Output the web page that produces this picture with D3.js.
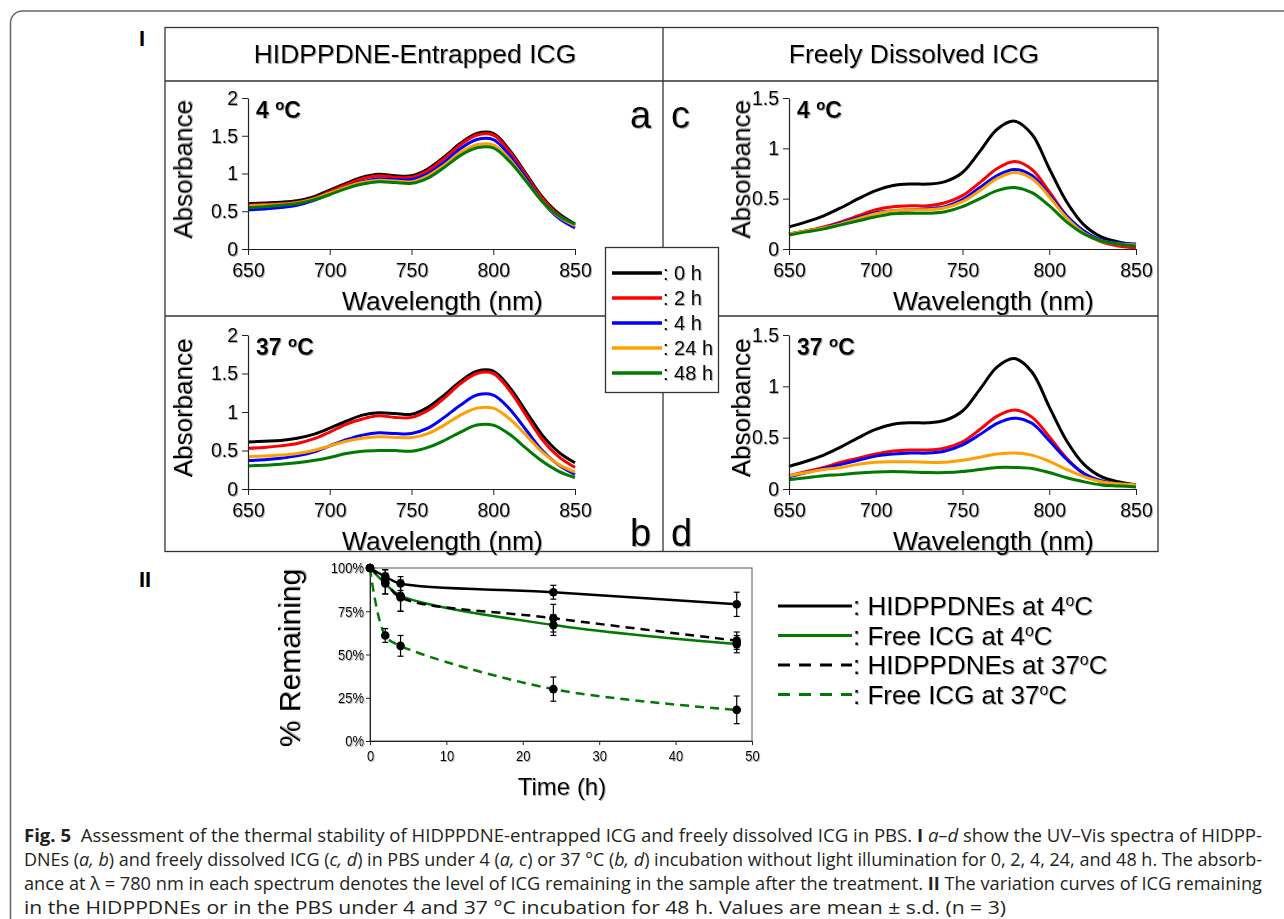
<!DOCTYPE html>
<meta charset="utf-8">
<script src="https://cdn.jsdelivr.net/npm/d3@7"></script>
<style>
body { margin: 0; background: #fff; }
svg text { font-family: "Liberation Sans", Arial, sans-serif; fill: #000; }
svg .caption text { font-family: "Open Sans", sans-serif; fill: #231f20; font-size: 17.5px; }
</style>
<body>
<script>

// ---- data ----
var wavelengths = [650, 660, 670, 680, 690, 700, 710, 720, 730, 740, 750, 760, 770, 780, 790, 800, 810, 820, 830, 840, 850];
var hourLabels = ["0 h", "2 h", "4 h", "24 h", "48 h"];

// a: HIDPPDNE-entrapped ICG, 4 oC
var a_0h  = [0.60,0.61,0.62,0.64,0.69,0.78,0.87,0.95,0.99,0.97,0.97,1.06,1.22,1.40,1.53,1.53,1.31,1.00,0.69,0.47,0.33];
var a_2h  = [0.58,0.59,0.60,0.62,0.67,0.76,0.85,0.93,0.97,0.95,0.95,1.04,1.20,1.38,1.51,1.51,1.29,0.98,0.67,0.45,0.31];
var a_4h  = [0.52,0.53,0.55,0.58,0.64,0.73,0.82,0.89,0.93,0.92,0.92,1.00,1.15,1.33,1.45,1.45,1.24,0.94,0.63,0.41,0.28];
var a_24h = [0.57,0.58,0.59,0.61,0.66,0.74,0.82,0.88,0.91,0.90,0.89,0.97,1.11,1.28,1.38,1.38,1.19,0.91,0.63,0.43,0.31];
var a_48h = [0.55,0.56,0.58,0.60,0.65,0.72,0.80,0.86,0.89,0.88,0.87,0.94,1.08,1.24,1.34,1.34,1.16,0.90,0.63,0.44,0.33];

// b: HIDPPDNE-entrapped ICG, 37 oC
var b_0h  = [0.61,0.62,0.63,0.66,0.71,0.79,0.88,0.96,0.99,0.98,0.97,1.06,1.22,1.40,1.53,1.53,1.32,1.01,0.70,0.48,0.34];
var b_2h  = [0.53,0.54,0.56,0.59,0.65,0.74,0.84,0.91,0.95,0.93,0.93,1.02,1.18,1.37,1.50,1.50,1.28,0.96,0.64,0.42,0.28];
var b_4h  = [0.37,0.38,0.40,0.43,0.48,0.56,0.64,0.70,0.73,0.72,0.72,0.79,0.93,1.09,1.22,1.22,1.04,0.77,0.50,0.31,0.19];
var b_24h = [0.42,0.43,0.44,0.46,0.50,0.56,0.62,0.66,0.68,0.67,0.67,0.72,0.83,0.96,1.05,1.05,0.91,0.70,0.48,0.32,0.22];
var b_48h = [0.30,0.31,0.32,0.34,0.37,0.41,0.46,0.49,0.50,0.50,0.49,0.54,0.63,0.74,0.83,0.83,0.71,0.53,0.36,0.23,0.15];

// c: freely dissolved ICG, 4 oC
var c_0h  = [0.22,0.27,0.33,0.41,0.50,0.58,0.63,0.645,0.645,0.67,0.76,0.97,1.19,1.27,1.14,0.80,0.47,0.24,0.12,0.07,0.04];
var c_2h  = [0.15,0.18,0.22,0.27,0.33,0.39,0.42,0.43,0.43,0.46,0.53,0.66,0.80,0.87,0.79,0.57,0.33,0.16,0.07,0.03,0.01];
var c_4h  = [0.15,0.18,0.21,0.26,0.31,0.36,0.38,0.39,0.40,0.42,0.49,0.61,0.73,0.79,0.73,0.54,0.33,0.18,0.09,0.06,0.05];
var c_24h = [0.15,0.18,0.21,0.25,0.30,0.35,0.38,0.39,0.39,0.41,0.47,0.58,0.70,0.76,0.70,0.52,0.31,0.16,0.08,0.05,0.04];
var c_48h = [0.14,0.17,0.20,0.24,0.28,0.32,0.35,0.355,0.355,0.37,0.42,0.50,0.58,0.61,0.56,0.43,0.27,0.15,0.08,0.05,0.03];

// d: freely dissolved ICG, 37 oC
var d_0h  = [0.22,0.27,0.33,0.41,0.50,0.58,0.63,0.645,0.645,0.67,0.76,0.97,1.19,1.27,1.14,0.80,0.47,0.24,0.12,0.07,0.04];
var d_2h  = [0.13,0.17,0.21,0.26,0.30,0.34,0.37,0.38,0.38,0.40,0.46,0.58,0.71,0.77,0.70,0.51,0.30,0.15,0.07,0.04,0.03];
var d_4h  = [0.12,0.16,0.20,0.24,0.28,0.32,0.34,0.35,0.35,0.37,0.43,0.53,0.64,0.69,0.64,0.47,0.29,0.15,0.08,0.05,0.04];
var d_24h = [0.13,0.16,0.19,0.21,0.24,0.26,0.265,0.265,0.26,0.26,0.28,0.31,0.34,0.35,0.33,0.27,0.19,0.12,0.07,0.05,0.04];
var d_48h = [0.09,0.11,0.13,0.14,0.155,0.165,0.17,0.165,0.16,0.16,0.17,0.19,0.21,0.21,0.20,0.16,0.11,0.07,0.04,0.03,0.02];

// II: % remaining vs time
var timeH = [0, 2, 4, 24, 48];
var hid4  = [100, 95, 91, 86, 79];   var hid4Err  = [0, 4, 4, 4, 7];
var free4 = [100, 91, 84, 67, 56];   var free4Err = [0, 6, 9, 6, 5];
var hid37 = [100, 92, 83, 71, 58];   var hid37Err = [0, 7, 8, 8, 5];
var free37 = [100, 61, 55, 30, 18];  var free37Err = [0, 4, 6, 7, 8];
var remainingNames = ["HIDPPDNEs at 4", "Free ICG at 4", "HIDPPDNEs at 37", "Free ICG at 37"];

var hourColors = ["#000000", "#ff0000", "#0000ff", "#ffa000", "#007a00"];
var fontF = "Liberation Sans, Arial, sans-serif";

var svg = d3.select("body").append("svg")
    .attr("width", 1284)
    .attr("height", 919);

var defs = svg.append("defs");
var flt = defs.append("filter").attr("id", "sh").attr("x", "-5%").attr("y", "-5%").attr("width", "110%").attr("height", "120%");
flt.append("feDropShadow").attr("dx", 1).attr("dy", 1).attr("stdDeviation", 0.6)
    .attr("flood-color", "#777").attr("flood-opacity", 0.6);

// outer page frame (top + left, rounded corner)
svg.append("path")
    .attr("d", "M10.5,919 L10.5,23 A12,12 0 0 1 22.5,11 L1284,11")
    .attr("fill", "none").attr("stroke", "#666").attr("stroke-width", 1.5);

// ---- panel I grid ----
var grid = svg.append("g").attr("stroke", "#333").attr("stroke-width", 1.3).attr("fill", "none");
grid.append("rect").attr("x", 165).attr("y", 27.5).attr("width", 993).attr("height", 524);
grid.append("line").attr("x1", 165).attr("x2", 1158).attr("y1", 81).attr("y2", 81);
grid.append("line").attr("x1", 165).attr("x2", 1158).attr("y1", 316).attr("y2", 316);
grid.append("line").attr("x1", 663).attr("x2", 663).attr("y1", 27.5).attr("y2", 551.5);

svg.append("text").attr("x", 139).attr("y", 46).attr("font-size", 22).attr("font-weight", "bold").text("I");
svg.append("text").attr("x", 139).attr("y", 587).attr("font-size", 22).attr("font-weight", "bold").text("II");

svg.append("text").attr("x", 415).attr("y", 63).attr("text-anchor", "middle").attr("font-size", 26.5)
    .attr("filter", "url(#sh)").text("HIDPPDNE-Entrapped ICG");
svg.append("text").attr("x", 914).attr("y", 63).attr("text-anchor", "middle").attr("font-size", 26.5)
    .attr("filter", "url(#sh)").text("Freely Dissolved ICG");

var panels = [
  {series: [a_0h, a_2h, a_4h, a_24h, a_48h], left: 248, right: 575, top: 98, bottom: 249, ymax: 2,
   temp: "4", letter: "a", lx: 630, ly: 128, ylabX: 192},
  {series: [b_0h, b_2h, b_4h, b_24h, b_48h], left: 248, right: 575, top: 335, bottom: 489, ymax: 2,
   temp: "37", letter: "b", lx: 630, ly: 546, ylabX: 192},
  {series: [c_0h, c_2h, c_4h, c_24h, c_48h], left: 789, right: 1136, top: 98, bottom: 249, ymax: 1.5,
   temp: "4", letter: "c", lx: 671, ly: 128, ylabX: 750},
  {series: [d_0h, d_2h, d_4h, d_24h, d_48h], left: 789, right: 1136, top: 335, bottom: 489, ymax: 1.5,
   temp: "37", letter: "d", lx: 671, ly: 546, ylabX: 750}
];

panels.forEach(function(p) {
  var g = svg.append("g");
  var x = d3.scaleLinear().domain([650, 850]).range([p.left, p.right]);
  var y = d3.scaleLinear().domain([0, p.ymax]).range([p.bottom, p.top]);

  var line = d3.line()
      .x(function(d, i) { return x(wavelengths[i]); })
      .y(function(d) { return y(d); })
      .curve(d3.curveCatmullRom.alpha(0.5));

  g.selectAll("path.spec")
      .data(p.series)
      .enter().append("path")
      .attr("class", "spec")
      .attr("d", line)
      .attr("fill", "none")
      .attr("stroke", function(d, i) { return hourColors[i]; })
      .attr("stroke-width", 3);

  var ax = g.append("g")
      .attr("transform", "translate(0," + p.bottom + ")")
      .call(d3.axisBottom(x).tickValues([650, 700, 750, 800, 850]).tickSize(6).tickSizeOuter(0).tickPadding(8));
  var ay = g.append("g")
      .attr("transform", "translate(" + p.left + ",0)")
      .call(d3.axisLeft(y).tickValues(p.ymax == 2 ? [0, 0.5, 1, 1.5, 2] : [0, 0.5, 1, 1.5])
          .tickFormat(function(d) { return String(d); }).tickSize(6).tickSizeOuter(0).tickPadding(4));
  [ax, ay].forEach(function(a) {
    a.attr("font-size", 19.5).attr("font-family", fontF).attr("color", "#222");
    a.selectAll("text").attr("filter", "url(#sh)");
    a.select(".domain").attr("stroke-width", 1.2);
  });

  g.append("text")
      .attr("x", (p.left + p.right) / 2 + 31)
      .attr("y", p.bottom + 61)
      .attr("text-anchor", "middle").attr("font-size", 26.5).attr("filter", "url(#sh)")
      .text("Wavelength (nm)");

  g.append("text")
      .attr("transform", "translate(" + p.ylabX + "," + ((p.top + p.bottom) / 2 - 4) + ") rotate(-90)")
      .attr("text-anchor", "middle").attr("font-size", 26).attr("filter", "url(#sh)")
      .text("Absorbance");

  var t = g.append("text")
      .attr("x", p.left + 8).attr("y", p.top + 20)
      .attr("font-size", 23).attr("font-weight", "bold").attr("filter", "url(#sh)");
  t.append("tspan").text(p.temp + " ");
  t.append("tspan").attr("font-size", 15).attr("dy", -8).text("o");
  t.append("tspan").attr("dy", 8).text("C");

  g.append("text").attr("x", p.lx).attr("y", p.ly).attr("font-size", 38)
      .attr("filter", "url(#sh)").text(p.letter);
});

// legend box for the spectra
var lg = svg.append("g");
lg.append("rect").attr("x", 605.5).attr("y", 247.5).attr("width", 113).attr("height", 145)
    .attr("fill", "#fff").attr("stroke", "#333").attr("stroke-width", 1.3);
hourLabels.forEach(function(h, i) {
  var yy = 273 + i * 25;
  lg.append("line").attr("x1", 612).attr("x2", 662).attr("y1", yy).attr("y2", yy)
      .attr("stroke", hourColors[i]).attr("stroke-width", 3.5);
  lg.append("text").attr("x", 663).attr("y", yy + 7).attr("font-size", 20)
      .attr("filter", "url(#sh)").text(": " + h);
});

// ---- panel II ----
var px = d3.scaleLinear().domain([0, 50]).range([370, 752]);
var py = d3.scaleLinear().domain([0, 100]).range([741, 568]);

var g2 = svg.append("g");
g2.append("rect").attr("x", 370).attr("y", 568).attr("width", 382).attr("height", 173)
    .attr("fill", "none").attr("stroke", "#555").attr("stroke-width", 1);

var ax2 = g2.append("g").attr("transform", "translate(0,741)")
    .call(d3.axisBottom(px).tickValues([0, 10, 20, 30, 40, 50]).tickSize(4).tickSizeOuter(0).tickPadding(5));
var ay2 = g2.append("g").attr("transform", "translate(370,0)")
    .call(d3.axisLeft(py).tickValues([0, 25, 50, 75, 100]).tickFormat(function(d) { return d + "%"; })
        .tickSize(4).tickSizeOuter(0).tickPadding(3));
[ax2, ay2].forEach(function(a) {
  a.attr("font-size", 15.5).attr("font-family", fontF).attr("color", "#222");
  a.selectAll("text").attr("filter", "url(#sh)").attr("transform", "scale(0.84,1)");
});

var remSeries = [
  {v: hid4, e: hid4Err, color: "#000", dash: null},
  {v: free4, e: free4Err, color: "#007a00", dash: null},
  {v: hid37, e: hid37Err, color: "#000", dash: "9,6"},
  {v: free37, e: free37Err, color: "#007a00", dash: "9,6"}
];

var rline = d3.line()
    .x(function(d, i) { return px(timeH[i]); })
    .y(function(d) { return py(d); })
    .curve(d3.curveCatmullRom.alpha(0.5));

remSeries.forEach(function(s) {
  g2.append("path").attr("d", rline(s.v)).attr("fill", "none")
      .attr("stroke", s.color).attr("stroke-width", 2.5).attr("stroke-dasharray", s.dash);
});
remSeries.forEach(function(s) {
  s.v.forEach(function(v, i) {
    if (s.e[i] > 0) {
      var xx = px(timeH[i]);
      g2.append("line").attr("x1", xx).attr("x2", xx).attr("y1", py(v - s.e[i])).attr("y2", py(v + s.e[i]))
          .attr("stroke", "#000").attr("stroke-width", 1.2);
      [v - s.e[i], v + s.e[i]].forEach(function(c) {
        g2.append("line").attr("x1", xx - 3).attr("x2", xx + 3).attr("y1", py(c)).attr("y2", py(c))
            .attr("stroke", "#000").attr("stroke-width", 1.2);
      });
    }
    g2.append("circle").attr("cx", px(timeH[i])).attr("cy", py(v)).attr("r", 4.3).attr("fill", "#000");
  });
});

g2.append("text")
    .attr("transform", "translate(300,658) rotate(-90)")
    .attr("text-anchor", "middle").attr("font-size", 30).attr("filter", "url(#sh)")
    .text("% Remaining");
g2.append("text").attr("x", 562).attr("y", 795).attr("text-anchor", "middle").attr("font-size", 24)
    .attr("filter", "url(#sh)").text("Time (h)");

remSeries.forEach(function(s, i) {
  var yy = 606 + i * 29.5;
  g2.append("line").attr("x1", 778).attr("x2", 852).attr("y1", yy).attr("y2", yy)
      .attr("stroke", s.color).attr("stroke-width", 3).attr("stroke-dasharray", s.dash ? "12,9" : null);
  var t = g2.append("text").attr("x", 853).attr("y", yy + 9).attr("font-size", 26).attr("filter", "url(#sh)");
  t.append("tspan").text(": " + remainingNames[i]);
  t.append("tspan").attr("font-size", 16).attr("dy", -9).text("o");
  t.append("tspan").attr("dy", 9).text("C");
});

// ---- caption ----
var cap = svg.append("g").attr("class", "caption");
var capLines = [
  {y: 842, w: 1238, parts: [["Fig. 5", "b"], ["  Assessment of the thermal stability of HIDPPDNE-entrapped ICG and freely dissolved ICG in PBS. "], ["I", "b"], [" "], ["a–d", "i"], [" show the UV–Vis spectra of HIDPP-"]]},
  {y: 866, w: 1238, parts: [["DNEs ("], ["a, b", "i"], [") and freely dissolved ICG ("], ["c, d", "i"], [") in PBS under 4 ("], ["a, c", "i"], [") or 37 °C ("], ["b, d", "i"], [") incubation without light illumination for 0, 2, 4, 24, and 48 h. The absorb-"]]},
  {y: 890, w: 1238, parts: [["ance at λ = 780 nm in each spectrum denotes the level of ICG remaining in the sample after the treatment. "], ["II", "b"], [" The variation curves of ICG remaining"]]},
  {y: 914, w: 982, parts: [["in the HIDPPDNEs or in the PBS under 4 and 37 °C incubation for 48 h. Values are mean ± s.d. (n = 3)"]]}
];
capLines.forEach(function(l) {
  var t = cap.append("text").attr("x", 24).attr("y", l.y)
      .attr("textLength", l.w).attr("lengthAdjust", "spacingAndGlyphs")
      .attr("xml:space", "preserve").style("white-space", "pre");
  l.parts.forEach(function(pt) {
    var s = t.append("tspan").text(pt[0]);
    if (pt[1] == "b") s.attr("font-weight", "bold");
    if (pt[1] == "i") s.attr("font-style", "italic");
  });
});

</script>
</body>
